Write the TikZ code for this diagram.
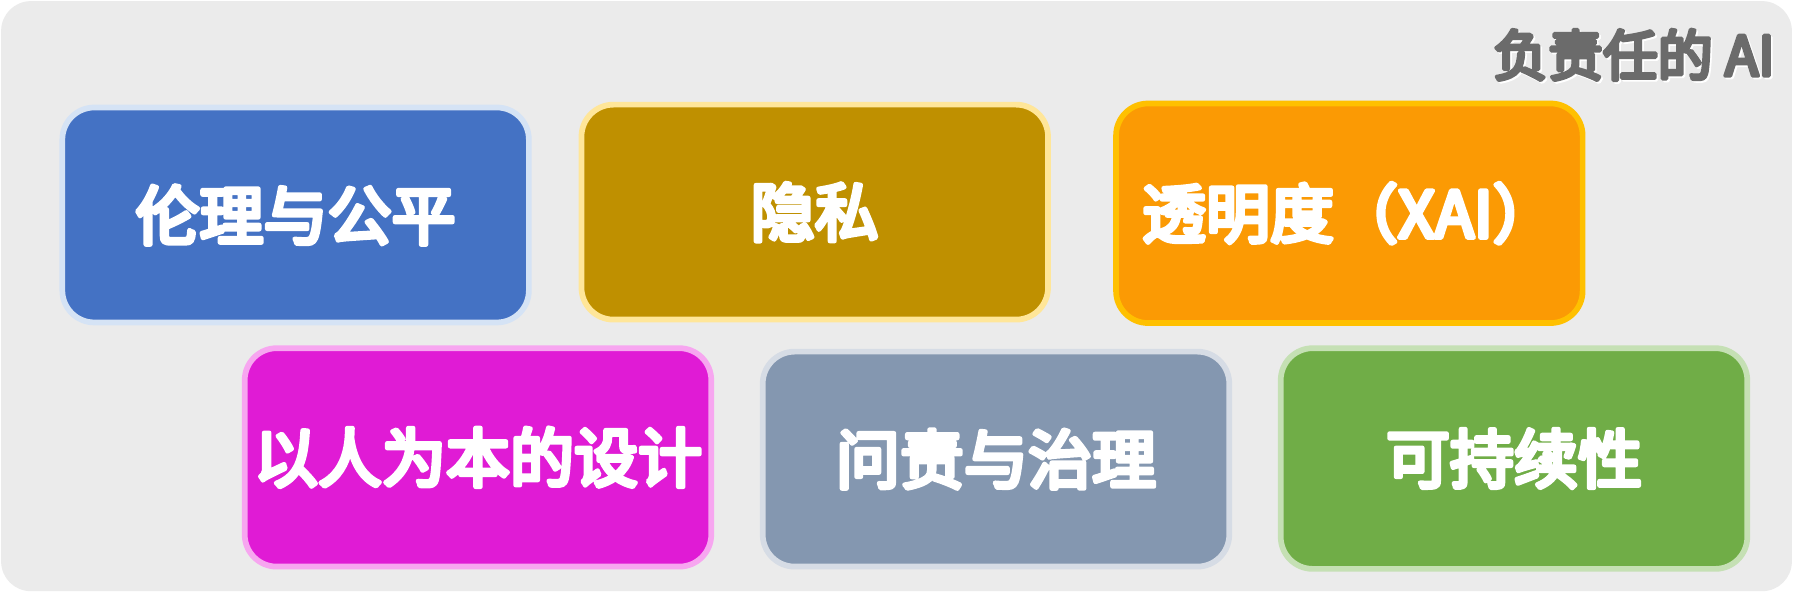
\documentclass[tikz,border=0pt]{standalone}
\usepackage{fontspec}
\newfontfamily\cjk{Noto Sans CJK SC}[FakeBold=7]
\definecolor{bgc}{HTML}{EBEBEB}
\definecolor{titlec}{HTML}{6B6B6B}
\definecolor{blueF}{HTML}{4472C4}\definecolor{blueB}{HTML}{D5E3F5}
\definecolor{goldF}{HTML}{BF9000}\definecolor{goldB}{HTML}{FFE699}
\definecolor{orangeF}{HTML}{FB9A04}\definecolor{orangeB}{HTML}{FFC000}
\definecolor{magF}{HTML}{E01BD5}\definecolor{magB}{HTML}{F7A6F0}
\definecolor{grayF}{HTML}{8497B0}\definecolor{grayB}{HTML}{D6DCE5}
\definecolor{greenF}{HTML}{70AD47}\definecolor{greenB}{HTML}{C5E0B4}
\tikzset{
  pillar/.style={rectangle, rounded corners=28pt, line width=5pt,
    minimum width=408pt, minimum height=188pt, inner sep=0pt},
  pillartext/.style={inner sep=0pt, text=white, line join=round, line cap=round,
    miter limit=1, font=\cjk\fontsize{56}{60}\selectfont},
  titletext/.style={anchor=east, inner sep=0pt, text=titlec, line join=round,
    line cap=round, miter limit=1, font=\cjk\fontsize{48}{52}\selectfont}
}
\begin{document}
\begin{tikzpicture}[x=1pt,y=-1pt]
\useasboundingbox (0,0) rectangle (1568,518);
\fill[white] (0,0) rectangle (1568,518);
\fill[bgc, rounded corners=26pt] (1,1) rectangle (1567,517);

\node[pillar, fill=blueF, draw=blueB] (ethics) at (258.5,188) {};
\node[pillar, fill=goldF, draw=goldB] (privacy) at (712.5,185.5) {};
\node[pillar, fill=orangeF, draw=orangeB, minimum height=192pt] (xai) at (1180,186.5) {};
\node[pillar, fill=magF, draw=magB, minimum height=191pt] (human) at (418,400) {};
\node[pillar, fill=grayF, draw=grayB] (account) at (871,401.5) {};
\node[pillar, fill=greenF, draw=greenB, minimum height=193pt] (sustain) at (1324,401) {};

\node[pillartext] (ethicsT) at (ethics) {伦理与公平};
\node[pillartext] (privacyT) at (privacy) {隐私};
\node[pillartext] (xaiT) at (xai) {透明度（XAI）};
\node[pillartext] (humanT) at (human) {以人为本的设计};
\node[pillartext] (accountT) at (account) {问责与治理};
\node[pillartext] (sustainT) at (sustain) {可持续性};

\node[titletext, text=white] (titleshadow) at (1553.5,49.5) {负责任的 AI};
\node[titletext] (title) at (1552,48) {负责任的 AI};
\end{tikzpicture}
\end{document}
